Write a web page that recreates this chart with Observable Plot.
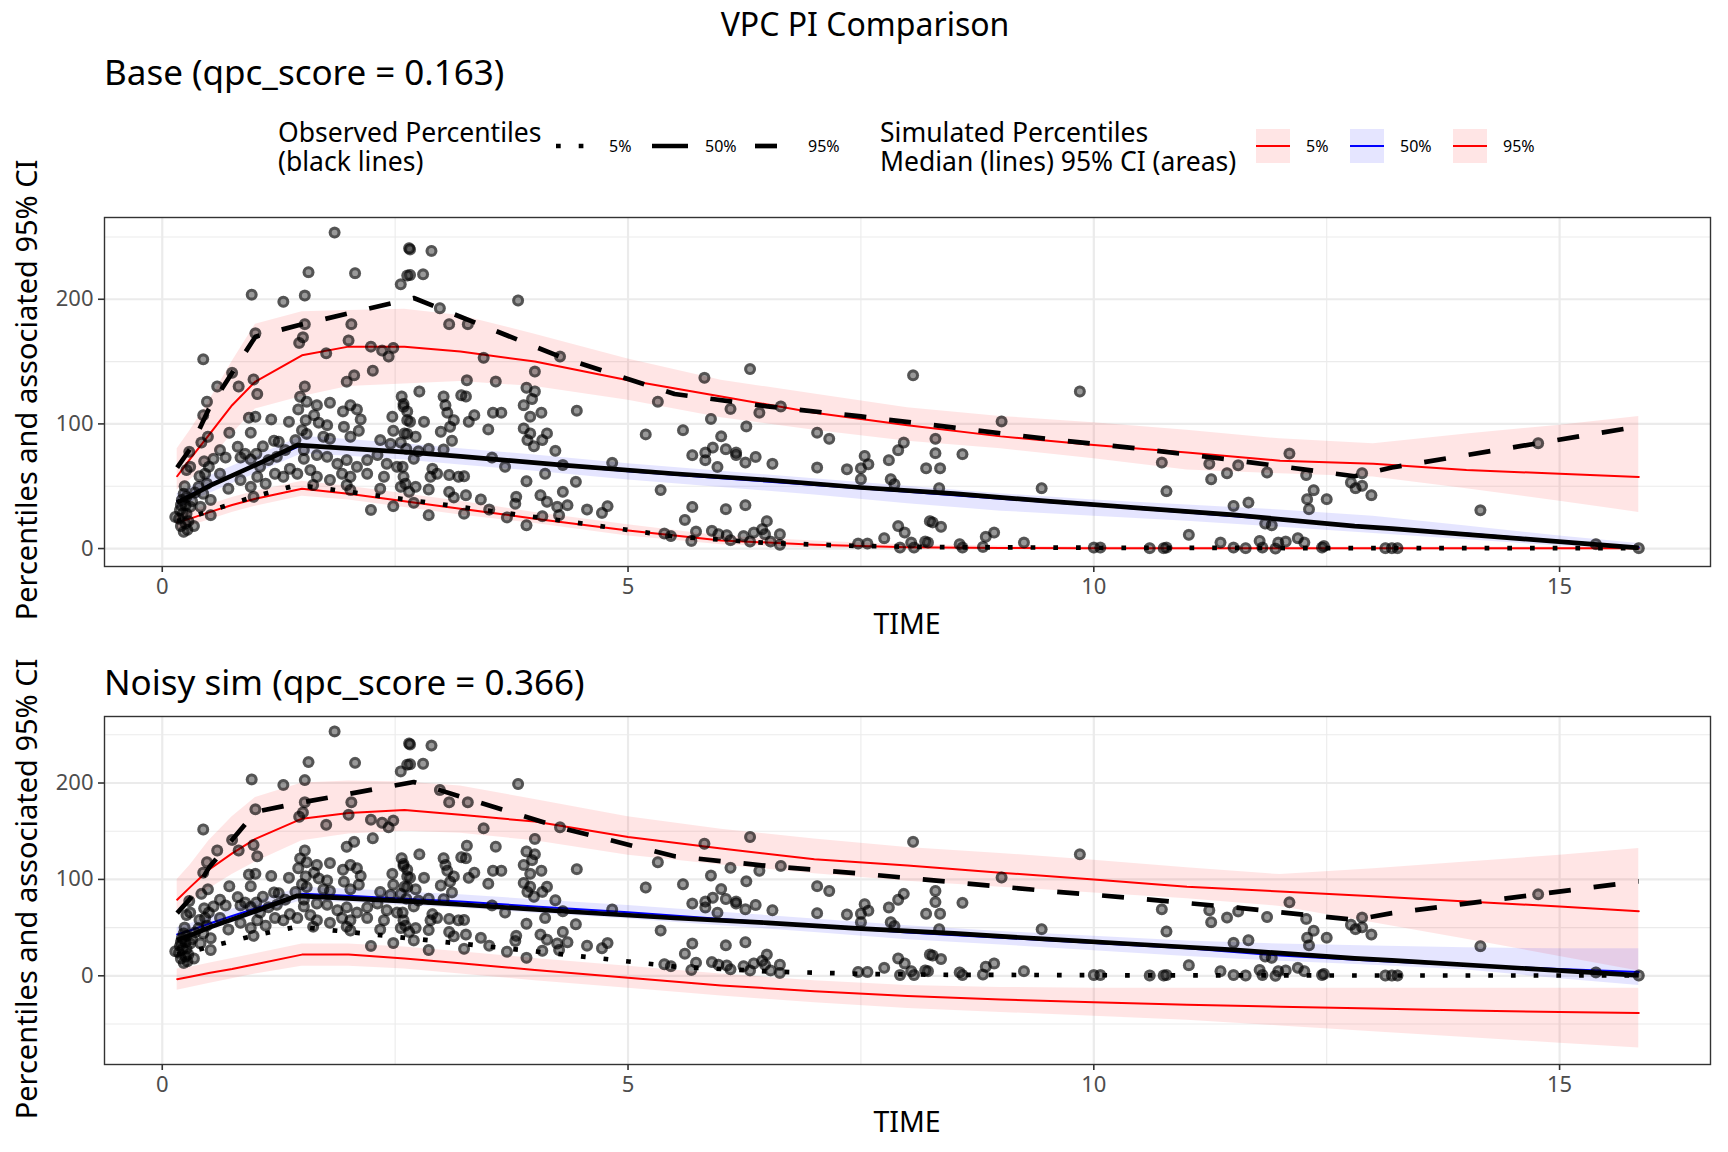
<!DOCTYPE html>
<html><head><meta charset="utf-8">
<script src="https://cdn.jsdelivr.net/npm/d3@7"></script>
<script src="https://cdn.jsdelivr.net/npm/@observablehq/plot@0.6"></script>
<style>
body{margin:0;background:#fff;font-family:"Noto Sans",sans-serif;}
#root{position:relative;width:1728px;height:1152px;overflow:hidden;background:#fff}
.t{position:absolute;white-space:nowrap;line-height:1;color:#000}
#root svg.plotpanel{position:absolute;left:0}
</style></head>
<body><div id="root"></div>
<script>
// ---------- data ----------
const xTicks = [0, 5, 10, 15];
const xMinor = [2.5, 7.5, 12.5];
const baseYTicks = [0, 100, 200];
const baseYMinor = [50, 150, 250];
const noisyYTicks = [0, 100, 200];
const noisyYMinor = [-50, 50, 150, 250];

const obsTime = [0.16, 0.3, 0.5, 1.0, 1.45, 2.7, 3.2, 4.3, 5.5, 6.5, 7.5, 8.5, 9.5, 10.5, 11.5, 12.8, 13.2, 15.85];
const obs5  = [22, 25, 30, 42, 51, 38.5, 33.4, 22.3, 9.6, 4.5, 2, 1, 0.8, 0.5, 0.5, 0.3, 0.3, 0.3];
const obs50 = [37, 42, 50, 67, 83, 77, 74, 67, 60, 55, 49, 44, 38, 32.5, 27, 18, 16, 0.5];
const obs95 = [65, 80, 112, 170, 179, 201, 186, 153, 124, 114, 106, 97, 88, 80, 71, 58, 65, 98];

const simTime = [0.16, 0.3, 0.5, 0.75, 1.0, 1.5, 2.0, 2.6, 3.2, 4.0, 5.0, 6.0, 7.0, 8.0, 9.0, 10.0, 11.0, 12.0, 13.0, 14.0, 15.0, 15.85];

const baseLo5  = [15, 18, 23, 29, 34, 42, 39, 33, 27, 20, 10, 3, 0.5, -0.5, -0.8, -1, -1, -1, -1, -1, -1, -1];
const baseMed5 = [21, 24, 29, 35, 40, 48, 44, 38, 32, 24, 14.5, 6.5, 3, 1, 0.5, 0.3, 0.2, 0.2, 0.2, 0.2, 0.2, 0.2];
const baseHi5  = [27, 30, 35, 41, 46, 54, 50, 44, 38, 29, 19, 10, 6, 3, 2, 1.5, 1.3, 1.2, 1.2, 1.2, 1.2, 1.2];
const baseLo50  = [32, 37, 44, 52, 60, 76, 74, 71, 67, 62, 55, 49, 43, 36, 30, 26, 22, 17, 12, 7, 2, -1];
const baseMed50 = [38, 43, 51, 59, 67, 83, 80.5, 77.5, 74, 68.5, 62, 56.5, 51, 45.5, 40, 34.5, 29, 23, 17, 12, 6, 1];
const baseHi50  = [44, 49, 58, 66, 74, 90, 87.5, 84, 80, 75, 68, 62, 56, 50, 44, 39, 35, 31, 26, 18, 10, 4];
const baseLo95  = [47, 55, 70, 92, 112, 122, 130, 132, 134, 130, 119, 105, 95, 86, 80, 72, 63, 60, 57.5, 48, 38, 29];
const baseMed95 = [58, 72, 91, 115, 134, 155, 162, 162, 158, 150, 135, 122, 109, 99, 90, 83, 77, 70.5, 68, 63, 60, 57.5];
const baseHi95  = [80, 95, 118, 150, 180, 190, 191, 192, 187, 172, 152, 135, 124, 113, 106, 101, 95, 88, 84, 92, 99, 106];

const noisyLo5  = [-15, -12, -8, -3, 2, 10, 10, 7, 2, -5, -13, -21, -28, -34, -38, -42, -46, -52, -58, -64, -70, -75];
const noisyMed5 = [-3.5, -1, 3, 7, 12, 22, 22, 18, 13, 6, -2, -10, -16, -21, -24.5, -27.5, -30, -32, -34, -36, -37.5, -38.5];
const noisyHi5  = [7, 9, 13, 18, 23, 33, 33, 30, 25, 18, 10, 2, -5, -10, -12, -13, -13, -13, -13, -13, -13, -13];
const noisyLo50  = [36, 40, 47, 55, 63, 78, 76, 73, 70, 65, 59, 52, 45, 37.5, 32, 26, 20, 15, 11, 6, -3, -10];
const noisyMed50 = [43, 47, 54, 62, 70, 85, 83, 80, 77, 72, 66, 59, 52, 45, 39.5, 34, 28.5, 21, 15.5, 11, 7, 4];
const noisyHi50  = [50, 54, 61, 69, 77, 92, 90, 87, 84, 79, 73, 66, 59, 52, 46, 41, 36, 33, 31, 29, 28, 28];
const noisyLo95  = [65, 75, 90, 105, 118, 140, 147, 150, 148, 140, 125, 115, 106, 98, 92, 86, 80, 72, 55, 38, 20, 5];
const noisyMed95 = [79, 92, 110, 127, 142, 163, 169, 172, 167, 160, 144, 132, 121, 114.5, 107, 100, 92.5, 87.5, 82.5, 77, 72, 67];
const noisyHi95  = [100, 115, 140, 165, 185, 200, 202, 201, 197, 183, 165, 152, 142, 133, 127, 120, 112, 105, 111, 118, 125, 132];

// observed concentrations [TIME, DV]
const obsPoints = [
[1.85,253.5],[1.57,221.7],[2.07,220.9],[0.96,203.7],[1.30,198],[1.53,203],[2.65,241],[2.63,219],[2.56,212],[0.44,151.8],
[1.0,172.7],[1.53,180],[1.51,169.5],[1.47,165],[2.03,180],[2.0,167],[1.76,156.6],[2.24,162],[2.36,158.8],[2.43,154],
[2.48,161],[2.26,142.7],[2.06,139],[1.98,133.9],[1.53,130],[0.75,141],[0.59,130],[0.82,130],[0.98,135.7],[1.02,124],
[0.48,117.8],[0.44,107],[0.49,89.7],[0.72,92.9],[0.95,93],[0.93,105],[1.0,105.8],[1.17,103.6],[1.36,101.7],[1.48,121.8],
[1.46,111.6],[1.55,117.8],[1.66,115],[1.8,117],[1.54,103],[1.63,107],[1.77,99],[1.68,101],[1.94,110],[2.02,115],
[2.09,111.6],[2.13,103.6],[1.95,97.7],[2.11,94.5],[2.47,105.8],[2.57,122],[2.59,113.8],[2.63,103],[2.48,94.5],[2.63,92],
[2.34,87],[2.45,84],[2.56,85],[2.02,89.7],[1.8,88],[1.73,89.7],[1.55,92],[1.43,87],[1.2,86.5],[1.25,85.7],
[1.08,82],[0.81,81.7],[0.62,79],[0.29,77.6],[0.68,73],[0.84,73],[0.89,76],[1.01,76],[0.95,71.5],[1.05,65.6],
[1.14,71],[1.23,73.6],[1.32,79],[1.52,79],[1.66,75],[1.77,73.6],[1.88,68],[1.98,71],[2.09,65.6],[2.2,71],
[2.31,75],[2.41,68],[2.52,65.6],[2.59,57.6],[2.38,57.6],[2.2,60],[2.02,57.6],[1.93,60],[1.8,55],[1.66,57.6],
[1.59,63],[1.45,60],[1.37,64],[1.3,57.6],[1.21,60],[1.11,52],[1.02,57.6],[0.95,49.5],[0.98,41.5],[0.84,55],
[0.71,48],[0.62,60],[0.5,65.6],[0.46,60],[0.48,52],[0.44,44],[0.52,39],[0.41,33.5],[0.52,26.8],[0.39,49.5],
[0.26,63],[0.3,65.6],[0.23,44],[0.21,39],[0.25,34.8],[0.19,30.8],[0.26,28],[0.18,24],[0.14,25.4],[0.25,20],
[0.23,13.4],[0.34,18],[0.3,33.5],[0.26,41.5],[1.62,51],[1.98,51],[2.02,47],[2.34,48],[2.24,31],[2.48,34],
[2.56,49.5],[1.52,72],[1.5,95],[0.2,18],[0.22,28],[0.24,50],[0.28,22],[0.32,38],[0.35,45],[0.2,35],
[0.27,15],[0.4,58],[0.45,70],[0.42,85],[0.55,72],
[2.66,240],[2.89,238.8],[2.66,219.5],[2.8,220],[2.98,192.8],[3.08,180],[3.28,180],[3.82,199],[3.45,153],[4.27,154],
[4.0,142],[3.27,135],[3.58,134],[2.76,126],[3.02,122],[3.21,123],[3.26,122],[3.91,129],[4.0,126],[3.97,120],
[3.88,115],[2.59,116],[2.63,110],[2.66,101.7],[2.81,101.7],[3.04,115],[3.06,109],[3.13,103],[3.09,97.7],[3.35,107],
[3.29,101.7],[3.55,109],[3.64,109],[3.5,95.6],[4.07,109],[3.95,105.8],[3.88,96.4],[3.95,92.4],[4.13,92.4],[4.08,87],
[3.99,82],[3.92,87],[4.22,78.4],[4.45,110.6],[5.19,91.6],[5.32,117.8],[2.99,93.7],[3.11,86.5],[2.72,89.7],[2.6,92.4],
[2.86,80],[3.02,79.5],[3.54,73],[3.68,65.6],[4.3,67],[4.11,60],[3.91,54],[4.44,53.5],[4.83,68.8],[5.35,46.9],
[2.9,64],[2.95,60],[3.08,59],[3.18,57.6],[2.72,49.5],[2.86,47.4],[3.08,45.5],[3.13,41],[3.26,42.8],[3.42,39.4],
[3.8,41.5],[4.06,42.8],[4.3,45.5],[4.35,34.8],[4.24,33.5],[4.13,37.5],[3.79,36],[3.51,31.3],[3.7,25],[3.91,18.7],
[4.08,26],[4.26,26.8],[4.56,31.3],[4.72,28.6],[4.78,34],[2.86,26.8],[3.24,28],[2.7,36.7],[5.39,12],[5.46,10],
[2.58,65.6],[2.61,52],[2.65,45.5],[3.24,58],[2.88,57.6],[2.7,72],[2.75,78],[2.62,80],
[5.82,137],[6.31,144],[8.06,139],[9.85,126],[6.1,112],[6.41,109],[5.89,104],[6.64,114],[5.59,95],[6.27,98],
[6.0,90],[5.91,81],[6.05,79.7],[6.16,77],[5.83,77],[5.83,70.9],[5.69,74.9],[6.16,75],[5.96,65.5],[6.26,69],
[6.37,73.5],[6.55,68],[7.03,93],[7.16,88],[7.03,65],[7.35,63.6],[7.5,64.4],[7.54,74.3],[7.58,67.6],[7.5,55.6],
[7.8,70.9],[7.9,78.9],[7.96,85],[7.82,55.6],[7.86,51.6],[8.3,88],[8.3,76.5],[8.2,64.4],[8.35,64.4],[8.34,48.4],
[8.59,75.7],[9.01,102],[9.44,48.4],[5.69,33.4],[5.61,23],[6.05,31.6],[6.26,34.8],[5.68,6.1],[5.73,13.6],[5.9,14.2],
[5.97,11.5],[6.06,10.7],[6.1,6.7],[6.24,10],[6.31,5.6],[6.35,12.8],[6.44,15.5],[6.49,22],[6.47,11.5],[6.53,5.6],
[6.63,11.5],[6.63,3],[7.47,4],[7.57,4],[7.75,8.3],[7.9,18],[7.97,12.8],[7.92,0.8],[8.04,4.8],[8.07,0.8],
[8.19,5.6],[8.24,22],[8.27,21],[8.36,17.4],[8.22,4.8],[8.56,3.5],[8.59,0.8],[8.81,1.3],[8.84,9.4],[8.93,12.8],
[9.25,4.8],[10.0,0.8],[10.07,0.8],[10.6,0.3],[10.75,0.3],[10.78,0.8],[10.73,69],[10.78,46],[11.02,11],
[11.24,68],[11.26,55.6],[11.43,60.4],[11.55,66.8],[11.86,61],[12.1,76.2],[12.28,59],[12.36,46.8],[12.29,39.6],[12.31,31.6],
[12.5,39.6],[11.5,34.2],[11.66,36.9],[11.84,20],[11.91,18.7],[11.36,4.8],[11.5,0.8],[11.63,0.3],[11.78,6.1],[11.81,0.8],
[11.95,0],[11.98,4.8],[12.06,5.6],[12.19,8.3],[12.26,4.8],[12.45,0.8],[12.47,2],[12.76,53],[12.81,48.4],[12.88,60.4],
[12.88,50.3],[12.98,42.8],[13.13,0.3],[13.2,0.3],[13.26,0.3],[14.15,30.7],[14.77,84.5],[15.39,3.5],[15.85,0.3]
];

// ---------- helpers ----------
const root = document.getElementById("root");
const FONT = '"Noto Sans", sans-serif';

function text(str, x, y, size, anchor = "start", extra = {}) {
  const d = document.createElement("div");
  d.className = "t";
  if (extra.html) d.innerHTML = str; else d.textContent = str;
  d.style.left = x + "px";
  d.style.top = y + "px";
  d.style.fontSize = size + "px";
  d.style.fontFamily = FONT;
  if (extra.lineHeight) d.style.lineHeight = extra.lineHeight + "px";
  const tx = anchor === "middle" ? "-50%" : anchor === "end" ? "-100%" : "0";
  d.style.transform = `translate(${tx},-50%)` + (extra.rotate ? ` rotate(${extra.rotate}deg)` : "");
  if (extra.color) d.style.color = extra.color;
  root.appendChild(d);
  return d;
}

function simRows(lo5, med5, hi5, lo50, med50, hi50, lo95, med95, hi95) {
  return simTime.map((t, i) => ({t, lo5: lo5[i], med5: med5[i], hi5: hi5[i],
    lo50: lo50[i], med50: med50[i], hi50: hi50[i], lo95: lo95[i], med95: med95[i], hi95: hi95[i]}));
}
const obsRows = obsTime.map((t, i) => ({t, p5: obs5[i], p50: obs50[i], p95: obs95[i]}));

const OBSW = 4.7;
const DOTTED = "4.7,18";
const DASHED = "22,23";
function panel(rows, yDomain, yTicks, yMinor, top, height, mt, mb) {
  const svg = Plot.plot({
    width: 1728, height,
    marginLeft: 104, marginRight: 18, marginTop: mt, marginBottom: mb,
    x: {domain: [-0.62, 16.62]},
    y: {domain: yDomain},
    style: {fontFamily: FONT, fontSize: "22px", color: "#4d4d4d", background: "transparent", overflow: "visible"},
    marks: [
      Plot.ruleY(yMinor, {stroke: "#ebebeb", strokeWidth: 1.1}),
      Plot.ruleX(xMinor, {stroke: "#ebebeb", strokeWidth: 1.1}),
      Plot.ruleY(yTicks, {stroke: "#ebebeb", strokeWidth: 2.2}),
      Plot.ruleX(xTicks, {stroke: "#ebebeb", strokeWidth: 2.2}),
      Plot.areaY(rows, {x: "t", y1: "lo95", y2: "hi95", fill: "#ff0000", fillOpacity: 0.1}),
      Plot.areaY(rows, {x: "t", y1: "lo50", y2: "hi50", fill: "#0000ff", fillOpacity: 0.1}),
      Plot.areaY(rows, {x: "t", y1: "lo5", y2: "hi5", fill: "#ff0000", fillOpacity: 0.1}),
      Plot.line(rows, {x: "t", y: "med5", stroke: "#ff0000", strokeWidth: 2}),
      Plot.line(rows, {x: "t", y: "med50", stroke: "#0000ff", strokeWidth: 2}),
      Plot.line(rows, {x: "t", y: "med95", stroke: "#ff0000", strokeWidth: 2}),
      Plot.dot(obsPoints, {x: d => d[0], y: d => d[1], r: 6, fill: "#000", fillOpacity: 0.4, stroke: "none"}),
      Plot.dot(obsPoints, {x: d => d[0], y: d => d[1], r: 4.4, fill: "none", stroke: "#000", strokeOpacity: 0.45, strokeWidth: 3}),
      Plot.line(obsRows, {x: "t", y: "p5", stroke: "#000", strokeWidth: OBSW, strokeDasharray: DOTTED, strokeLinecap: "butt", strokeLinejoin: "round"}),
      Plot.line(obsRows, {x: "t", y: "p50", stroke: "#000", strokeWidth: OBSW, strokeLinecap: "butt", strokeLinejoin: "round"}),
      Plot.line(obsRows, {x: "t", y: "p95", stroke: "#000", strokeWidth: OBSW, strokeDasharray: DASHED, strokeLinecap: "butt", strokeLinejoin: "round"}),
      Plot.frame({stroke: "#333333", strokeWidth: 1.4}),
      Plot.axisX(xTicks, {tickSize: 6, tickPadding: 6, tickFormat: d => String(d), label: null, stroke: "#333333", fill: "#4d4d4d", strokeWidth: 1.6}),
      Plot.axisY(yTicks, {tickSize: 6, tickPadding: 5, tickFormat: d => String(d), label: null, stroke: "#333333", fill: "#4d4d4d", strokeWidth: 1.6})
    ]
  });
  svg.classList.add("plotpanel");
  svg.style.top = top + "px";
  root.appendChild(svg);
}

panel(simRows(baseLo5, baseMed5, baseHi5, baseLo50, baseMed50, baseHi50, baseLo95, baseMed95, baseHi95),
  [-14.4, 265.6], baseYTicks, baseYMinor, 200, 440, 17, 74);
panel(simRows(noisyLo5, noisyMed5, noisyHi5, noisyLo50, noisyMed50, noisyHi50, noisyLo95, noisyMed95, noisyHi95),
  [-92, 269], noisyYTicks, noisyYMinor, 700, 452, 16, 88);

// ---------- texts ----------
text("VPC PI Comparison", 865, 24, 32, "middle");
text("Base (qpc_score = 0.163)", 104, 71, 35);
text("Noisy sim (qpc_score = 0.366)", 104, 681, 35);
text("TIME", 907, 623, 28.5, "middle");
text("TIME", 907, 1121, 28.5, "middle");
text("Percentiles and associated 95% CI", 25, 390, 29, "middle", {rotate: -90});
text("Percentiles and associated 95% CI", 25, 889, 29, "middle", {rotate: -90});

// ---------- legend ----------
text("Observed Percentiles<br>(black lines)", 278, 147, 26.5, "start", {html: true, lineHeight: 29});
text("Simulated Percentiles<br>Median (lines) 95% CI (areas)", 880, 147, 26.5, "start", {html: true, lineHeight: 29});

const obsKeys = [
  {label: "5%", x: 556, dash: DOTTED},
  {label: "50%", x: 652, dash: null},
  {label: "95%", x: 755, dash: DASHED}
];
const simKeys = [
  {label: "5%", x: 1256, color: "#ff0000"},
  {label: "50%", x: 1350, color: "#0000ff"},
  {label: "95%", x: 1453, color: "#ff0000"}
];
const leg = d3.create("svg").attr("width", 1728).attr("height", 60)
  .style("position", "absolute").style("left", "0px").style("top", "118px");
const KY = 28; // key centre y inside legend svg (146 on page)
for (const k of obsKeys) {
  leg.append("line").attr("x1", k.x).attr("x2", k.x + 36).attr("y1", KY).attr("y2", KY)
    .attr("stroke", "#000").attr("stroke-width", OBSW).attr("stroke-linecap", "butt")
    .attr("stroke-dasharray", k.dash);
}
for (const k of simKeys) {
  leg.append("rect").attr("x", k.x).attr("y", 11).attr("width", 34).attr("height", 34)
    .attr("fill", k.color).attr("fill-opacity", 0.1);
  leg.append("line").attr("x1", k.x).attr("x2", k.x + 34).attr("y1", KY).attr("y2", KY)
    .attr("stroke", k.color).attr("stroke-width", 2);
}
root.appendChild(leg.node());
for (const k of obsKeys) text(k.label, k.x + 53, 146, 16);
for (const k of simKeys) text(k.label, k.x + 50, 146, 16);
</script>
</body></html>
